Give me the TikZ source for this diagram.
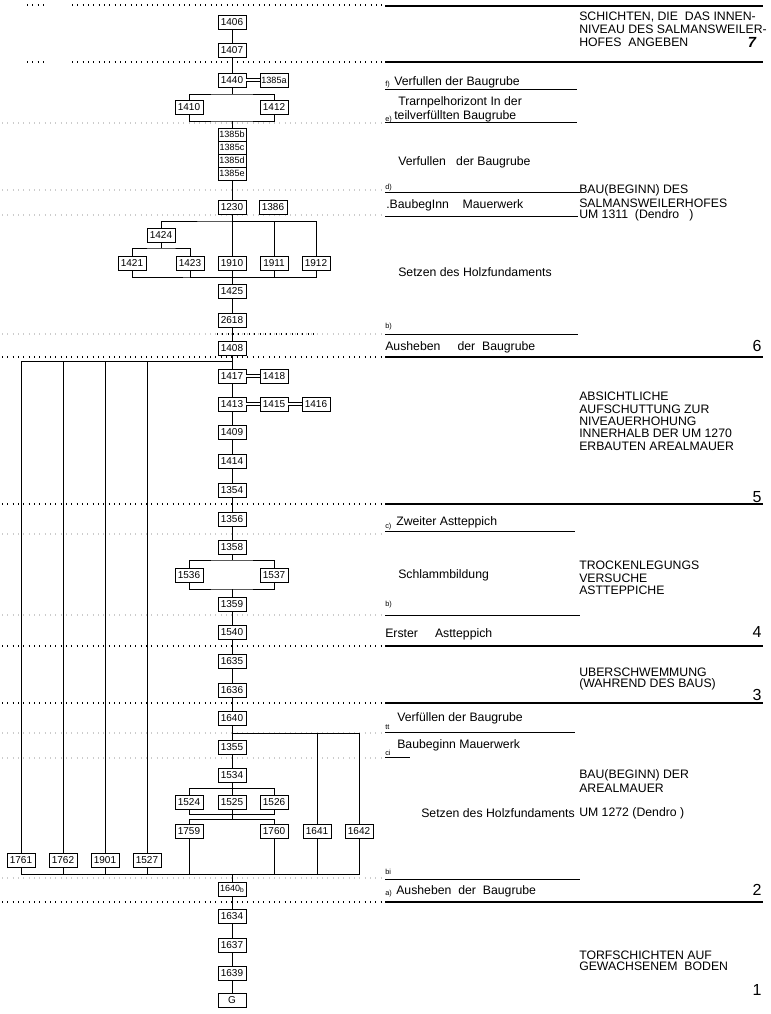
\documentclass[tikz,border=0pt]{standalone}
\usepackage{fontspec}
\setmainfont{Liberation Sans}
\usetikzlibrary{shapes,arrows}

\tikzset{
  unit/.style={draw,line width=0.7pt,minimum width=21pt,minimum height=10.5pt,
    inner sep=0pt,font=\fontsize{7.5}{7.5}\selectfont},
  wideunit/.style={unit,font=\fontsize{6.8}{6.8}\selectfont},
  stackunit/.style={wideunit,minimum height=9.75pt},
  link/.style={line width=0.6pt},
  eq/.style={double,double distance=1.6pt,line width=0.5pt},
  lbl/.style={anchor=west,inner sep=0pt,font=\fontsize{9.2}{9.2}\selectfont},
  subl/.style={anchor=west,inner sep=0pt,font=\fontsize{5.5}{5.5}\selectfont},
  phase/.style={inner sep=0pt,font=\fontsize{12}{12}\selectfont},
  major/.style={line width=0.8pt},
  minor/.style={line width=0.4pt},
  dots/.style={line width=0.8pt,dash pattern=on 0.8pt off 3.2pt},
  faint/.style={dots,gray!40}
}

\begin{document}
\begin{tikzpicture}[x=0.75pt,y=-0.75pt]
    \pgfmathsetmacro{\xm}{232}
    \pgfmathsetmacro{\xr}{385}
    \pgfmathsetmacro{\xe}{763}
    \useasboundingbox (0,0) rectangle (771,1014);

    % Draw the phase borders
    \foreach \y in {6,62,357,504,646,703,902}
        \draw [major] (\xr,\y) -- (\xe,\y);
    \foreach \y in {5,62}
        \draw [dots] (27,\y) -- (44,\y) (72,\y) -- (\xr,\y);
    \foreach \y in {357,504,646,703,902}
        \draw [dots] (2,\y) -- (\xr,\y);
    \foreach \y in {123,190,215,334,534,615,733,758,878}
        \draw [faint] (2,\y) -- (\xr,\y);
    \draw [dots] (217,334) -- (317,334);
    \foreach \y/\l in {89/577,122/577,192/580,216/578,334/578,531/575,615/580,732/575,757/410,879/580}
        \draw [minor] (\xr,\y) -- (\l,\y);

    % Draw the units
    \foreach \n/\y in {1406/22,1407/50,1440/80,1230/207,1910/263,1425/291,2618/320,
        1408/348,1417/376,1413/404,1409/432,1414/461,1354/490,1356/519,1358/547,
        1359/604,1540/632,1635/661,1636/690,1640/718,1355/747,1534/775,1525/802,
        1634/916,1637/945,1639/973}
        \node [unit] (u\n) at (\xm,\y) {\n};
    \foreach \n/\y in {1385b/134.5,1385c/147.5,1385d/160.5,1385e/173.5}
        \node [stackunit] (u\n) at (\xm,\y) {\n};
    \foreach \n/\x/\y in {1410/189/107,1412/274/107,1386/273/207,
        1424/161/235,1421/132/263,1423/190/263,1911/274/263,1912/316/263,
        1418/274/376,1415/274/404,1416/316/404,1536/189/575,1537/274/575,
        1524/189/802,1526/274/802,1759/189/831,1760/274/831,1641/317/831,
        1642/359/831,1761/21/860,1762/63/860,1901/105/860,1527/147/860}
        \node [unit] (u\n) at (\x,\y) {\n};
    \node [wideunit] (u1385a) at (274,80) {1385a};
    \node [wideunit] (u1640b) at (\xm,889) {1640\raisebox{-1pt}{\fontsize{5}{5}\selectfont b}};
    \node [unit] (uG) at (\xm,1000) {G};

    % Junctions
    \coordinate (j1) at (\xm,94);
    \coordinate (j2) at (\xm,121);
    \coordinate (j3) at (\xm,221);
    \coordinate (j4) at (161,248);
    \coordinate (j5) at (\xm,277);
    \coordinate (j6) at (\xm,361);
    \coordinate (j7) at (\xm,560);
    \coordinate (j8) at (\xm,589);
    \coordinate (j9) at (\xm,733);
    \coordinate (j10) at (\xm,788);
    \coordinate (j11) at (\xm,814);
    \coordinate (j12) at (\xm,819);
    \coordinate (j13) at (\xm,874);

    % Draw the links
    \draw [link] (u1406) -- (u1407) -- (u1440) -- (j1);
    \draw [link] (u1410) |- (j1) -| (u1412);
    \draw [link] (u1410) |- (j2) -| (u1412);
    \draw [link] (j2) -- (u1385b);
    \draw [link] (u1385e) -- (u1230) -- (u1910);
    \draw [link] (u1424) |- (j3) -| (u1912);
    \draw [link] (j3) -| (u1911);
    \draw [link] (u1424) -- (j4);
    \draw [link] (u1421) |- (j4) -| (u1423);
    \draw [link] (u1421) |- (j5) -| (u1912);
    \draw [link] (u1423) |- (j5);
    \draw [link] (u1911) |- (j5);
    \draw [link] (u1910) -- (u1425) -- (u2618) -- (u1408) -- (u1417) -- (u1413)
        -- (u1409) -- (u1414) -- (u1354) -- (u1356) -- (u1358) -- (j7);
    \foreach \n in {1761,1762,1901,1527}
        \draw [link] (j6) -| (u\n) (u\n) |- (j13);
    \draw [link] (u1536) |- (j7) -| (u1537);
    \draw [link] (u1536) |- (j8) -| (u1537);
    \draw [link] (j8) -- (u1359) -- (u1540) -- (u1635) -- (u1636) -- (u1640)
        -- (u1355) -- (u1534) -- (u1525) -- (j12);
    \draw [link] (j9) -| (u1641);
    \draw [link] (j9) -| (u1642);
    \draw [link] (u1524) |- (j10) -| (u1526);
    \draw [link] (u1524) |- (j11) -| (u1526);
    \draw [link] (u1759) |- (j12) -| (u1760);
    \foreach \n in {1759,1760,1641,1642}
        \draw [link] (u\n) |- (j13);
    \draw [link] (j13) -- (u1640b) -- (u1634) -- (u1637) -- (u1639) -- (uG);
    \draw [eq] (u1440) -- (u1385a);
    \draw [eq] (u1417) -- (u1418);
    \draw [eq] (u1413) -- (u1415) -- (u1416);

    % Phase 7 and 6
    \node [lbl] (t7a) at (579,17) {SCHICHTEN, DIE\ \ DAS INNEN-};
    \node [lbl] (t7b) at (579,29) {NIVEAU DES SALMANSWEILER-};
    \node [lbl] (t7c) at (579,42) {HOFES\ \ ANGEBEN};
    \node [phase,font=\fontsize{11}{11}\selectfont\bfseries\itshape] (p7) at (752,42) {7};
    \node [subl] (sf) at (385,85) {f)};
    \node [lbl] (tf) at (394,82) {Verfullen der Baugrube};
    \node [lbl] (te1) at (398,102) {Trarnpelhorizont In der};
    \node [subl] (se) at (385,120) {e)};
    \node [lbl] (te2) at (394,116) {teilverfüllten Baugrube};
    \node [lbl] (tv) at (398,162) {Verfullen\ \ \ der Baugrube};
    \node [subl] (sd) at (385,188) {d)};
    \node [lbl] (t6a) at (579,190) {BAU(BEGINN) DES};
    \node [lbl] (tc) at (386,205) {.BaubegInn\ \ \ \ Mauerwerk};
    \node [lbl] (t6b) at (579,203) {SALMANSWEILERHOFES};
    \node [lbl] (t6c) at (579,215) {UM 1311\ \ (Dendro\ \ \ )};
    \node [lbl] (ts) at (398,272) {Setzen des Holzfundaments};
    \node [subl] (sb) at (385,327) {b)};
    \node [lbl] (ta) at (385,347) {Ausheben\ \ \ \ \ der\ \ Baugrube};
    \node [phase] (p6) at (757,346) {6};

    % Phase 5 and 4
    \node [lbl] (t5a) at (579,396) {ABSICHTLICHE};
    \node [lbl] (t5b) at (579,409) {AUFSCHUTTUNG ZUR};
    \node [lbl] (t5c) at (579,421) {NIVEAUERHOHUNG};
    \node [lbl] (t5d) at (579,433) {INNERHALB DER UM 1270};
    \node [lbl] (t5e) at (579,446) {ERBAUTEN AREALMAUER};
    \node [phase] (p5) at (757,497) {5};
    \node [subl] (sc4) at (385,527) {c)};
    \node [lbl] (tc4) at (396,522) {Zweiter Astteppich};
    \node [lbl] (tsch) at (398,575) {Schlammbildung};
    \node [lbl] (t4a) at (579,565) {TROCKENLEGUNGS};
    \node [lbl] (t4b) at (579,578) {VERSUCHE};
    \node [lbl] (t4c) at (579,590) {ASTTEPPICHE};
    \node [subl] (sb4) at (385,605) {b)};
    \node [lbl] (tb4) at (385,634) {Erster\ \ \ \ \ Astteppich};
    \node [phase] (p4) at (757,632) {4};

    % Phase 3 and 2
    \node [lbl] (t3a) at (579,672) {UBERSCHWEMMUNG};
    \node [lbl] (t3b) at (579,684) {(WAHREND DES BAUS)};
    \node [phase] (p3) at (757,695) {3};
    \node [subl] (sd2) at (385,727) {tt};
    \node [lbl] (td2) at (397,718) {Verfüllen der Baugrube};
    \node [subl] (sc2) at (385,753) {ci};
    \node [lbl] (tc2) at (397,745) {Baubeginn Mauerwerk};
    \node [lbl] (t2a) at (579,775) {BAU(BEGINN) DER};
    \node [lbl] (t2b) at (579,788) {AREALMAUER};
    \node [lbl] (t2c) at (579,813) {UM 1272 (Dendro )};
    \node [lbl,anchor=east] (ts2) at (575,813) {Setzen des Holzfundaments};
    \node [subl] (sb2) at (385,872) {bi};
    \node [subl] (sa2) at (385,894) {a)};
    \node [lbl] (ta2) at (396,891) {Ausheben\ \ der\ \ Baugrube};
    \node [phase] (p2) at (757,890) {2};

    % Phase 1
    \node [lbl] (t1a) at (579,955) {TORFSCHICHTEN AUF};
    \node [lbl] (t1b) at (579,966) {GEWACHSENEM\ \ BODEN};
    \node [phase] (p1) at (757,990) {1};

\end{tikzpicture}
\end{document}
